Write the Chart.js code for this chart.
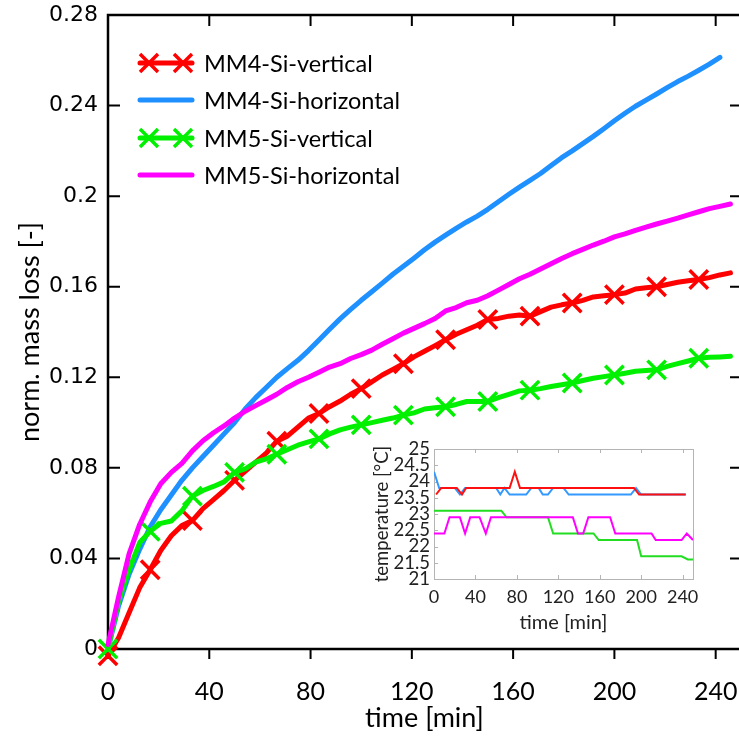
<!DOCTYPE html>
<html>
<head>
<meta charset="utf-8">
<script src="https://cdn.jsdelivr.net/npm/chart.js@4.4.1/dist/chart.umd.min.js"></script>
<style>
  html, body { margin: 0; padding: 0; background: #fff; }
  #wrap { position: relative; width: 739px; height: 740px; overflow: hidden; background: #fff; }
  #main { position: absolute; left: 0; top: 0; }
  #inset { position: absolute; left: 365px; top: 435px; }
</style>
</head>
<body>
<div id="wrap">
  <canvas id="main" width="745" height="740"></canvas>
  <canvas id="inset" width="340" height="215"></canvas>
</div>
<script>
// ---- mass loss data (time in minutes, normalised mass loss) ----
const timeMin = [0, 4.17, 8.33, 12.5, 16.67, 20.83, 25, 29.17, 33.33, 37.5,
  41.67, 45.83, 50, 54.17, 58.33, 62.5, 66.67, 70.83, 75, 79.17,
  83.33, 87.5, 91.67, 95.83, 100, 104.17, 108.33, 112.5, 116.67, 120.83,
  125, 129.17, 133.33, 137.5, 141.67, 145.83, 150, 154.17, 158.33, 162.5,
  166.67, 170.83, 175, 179.17, 183.33, 187.5, 191.67, 195.83, 200, 204.17,
  208.33, 212.5, 216.67, 220.83, 225, 229.17, 233.33, 237.5, 241.67, 245.83];

const mm4Vertical = [-0.003, 0.005, 0.016, 0.027, 0.035, 0.0435, 0.050, 0.0545, 0.0567, 0.062,
  0.066, 0.070, 0.0745, 0.0785, 0.0825, 0.0865, 0.0918, 0.094, 0.098, 0.102,
  0.104, 0.107, 0.1095, 0.1125, 0.115, 0.118, 0.121, 0.1235, 0.126, 0.129,
  0.1315, 0.134, 0.1366, 0.139, 0.141, 0.143, 0.1455, 0.146, 0.147, 0.1475,
  0.147, 0.149, 0.151, 0.152, 0.1528, 0.154, 0.1555, 0.156, 0.1565, 0.1572,
  0.159, 0.1595, 0.160, 0.161, 0.162, 0.1626, 0.1632, 0.164, 0.1652, 0.1661];

const mm4Horizontal = [0, 0.019, 0.033, 0.044, 0.054, 0.0615, 0.068, 0.0745, 0.080, 0.085,
  0.090, 0.095, 0.100, 0.106, 0.111, 0.1155, 0.120, 0.1238, 0.1275, 0.1318,
  0.1365, 0.1412, 0.1458, 0.1500, 0.1540, 0.1578, 0.1616, 0.1655, 0.1690, 0.1726,
  0.1763, 0.1797, 0.1828, 0.1858, 0.1886, 0.1912, 0.1942, 0.1975, 0.2008, 0.2040,
  0.2070, 0.2100, 0.2135, 0.2170, 0.2200, 0.2232, 0.2264, 0.2298, 0.2333, 0.2366,
  0.2397, 0.2424, 0.2451, 0.2479, 0.2506, 0.2530, 0.2556, 0.2583, 0.2613];

const mm5Vertical = [0.000, 0.021, 0.035, 0.047, 0.052, 0.0555, 0.0565, 0.061, 0.0675, 0.070,
  0.0718, 0.0738, 0.078, 0.0795, 0.0825, 0.084, 0.086, 0.088, 0.090, 0.0915,
  0.0928, 0.095, 0.0968, 0.098, 0.099, 0.100, 0.101, 0.102, 0.1033, 0.1043,
  0.106, 0.1065, 0.107, 0.108, 0.1093, 0.1093, 0.1093, 0.111, 0.1125, 0.114,
  0.1143, 0.115, 0.1159, 0.1167, 0.1175, 0.1186, 0.1196, 0.1203, 0.121, 0.1218,
  0.1227, 0.123, 0.1233, 0.1248, 0.126, 0.1272, 0.1284, 0.1288, 0.129, 0.1293];

const mm5Horizontal = [0.002, 0.023, 0.042, 0.055, 0.065, 0.073, 0.078, 0.082, 0.0875, 0.092,
  0.0955, 0.0985, 0.102, 0.105, 0.1075, 0.110, 0.1125, 0.1155, 0.118, 0.120,
  0.1222, 0.1245, 0.126, 0.1283, 0.130, 0.132, 0.1346, 0.137, 0.1395, 0.1416,
  0.1437, 0.146, 0.1493, 0.1508, 0.1529, 0.154, 0.156, 0.1585, 0.161, 0.1635,
  0.1655, 0.1678, 0.1701, 0.1725, 0.1746, 0.1765, 0.1784, 0.1801, 0.182, 0.1833,
  0.1849, 0.1863, 0.1877, 0.189, 0.1903, 0.1917, 0.1931, 0.1945, 0.1955, 0.1965];

const seriesNames = ['MM4-Si-vertical', 'MM4-Si-horizontal', 'MM5-Si-vertical', 'MM5-Si-horizontal'];

const xTickValues = [0, 40, 80, 120, 160, 200, 240];
const xTickLabels = ['0', '40', '80', '120', '160', '200', '240'];
const yTickValues = [0, 0.04, 0.08, 0.12, 0.16, 0.2, 0.24, 0.28];
const yTickLabels = ['0', '0.04', '0.08', '0.12', '0.16', '0.2', '0.24', '0.28'];

// ---- room temperature during the runs (breakpoints, minutes / °C) ----
const mm4VertTempTime = [2, 7, 22, 27, 31, 73, 78, 83, 193, 198, 243];
const mm4VertTemp     = [23.6, 23.8, 23.8, 23.6, 23.8, 23.8, 24.3, 23.8, 23.8, 23.6, 23.6];
const mm4HorTempTime  = [0, 5, 20, 25, 30, 60, 64, 68, 73, 89, 94, 101, 105, 110, 115, 125, 130, 190, 195, 200, 243];
const mm4HorTemp      = [24.3, 23.8, 23.8, 23.6, 23.8, 23.8, 23.6, 23.8, 23.6, 23.6, 23.8, 23.8, 23.6, 23.6, 23.8, 23.8, 23.6, 23.6, 23.8, 23.6, 23.6];
const mm5VertTempTime = [0, 65, 70, 110, 115, 154, 159, 196, 200, 239, 245, 250];
const mm5VertTemp     = [23.1, 23.1, 22.9, 22.9, 22.4, 22.4, 22.2, 22.2, 21.7, 21.7, 21.6, 21.6];
const mm5HorTempTime  = [0, 10, 15, 25, 30, 35, 44, 50, 55, 134, 139, 144, 149, 170, 175, 210, 214, 239, 244, 250];
const mm5HorTemp      = [22.4, 22.4, 22.9, 22.9, 22.4, 22.9, 22.9, 22.4, 22.9, 22.9, 22.4, 22.4, 22.9, 22.9, 22.4, 22.4, 22.2, 22.2, 22.4, 22.2];

const insetXTicks = [0, 40, 80, 120, 160, 200, 240];
const insetYTicks = [21, 21.5, 22, 22.5, 23, 23.5, 24, 24.5, 25];
const insetYLabels = ['21', '21.5', '22', '22.5', '23', '23.5', '24', '24.5', '25'];

// ---- helpers ----
const toPoints = (xs, ys) => ys.map((y, i) => ({ x: xs[i], y }));
const MARKER_EVERY = 4;   // a cross every 4th sample

const RED = '#ff0000', BLUE = '#1e90ff', GREEN = '#00f000', MAGENTA = '#ff00ff';

// keep the plot area exactly where the layout padding puts it
function fixedBox(size) {
  return s => {
    if (s.isHorizontal()) s.height = size; else s.width = size;
    s.paddingTop = 0; s.paddingBottom = 0; s.paddingLeft = 0; s.paddingRight = 0;
  };
}

function lineSet(label, values, color, withMarkers, order) {
  return {
    label,
    data: toPoints(timeMin, values),
    borderColor: color,
    backgroundColor: color,
    borderWidth: 5,
    borderCapStyle: 'round',
    borderJoinStyle: 'round',
    pointStyle: 'crossRot',
    pointRadius: withMarkers ? (c => c.dataIndex % MARKER_EVERY === 0 ? 13 : 0) : 0,
    pointHoverRadius: 0,
    pointBorderWidth: 3.5,
    pointBorderColor: color,
    clip: false,
    order,
    showMarker: withMarkers
  };
}

// box frame: ticks inside on left/top/right, outside at the bottom
const framePlugin = {
  id: 'frame',
  beforeDatasetsDraw(chart) {
    const { ctx, chartArea: a, scales: { x, y } } = chart;
    ctx.save();
    ctx.strokeStyle = '#000';
    ctx.lineWidth = 2.5;
    ctx.strokeRect(a.left, a.top, a.right - a.left, a.bottom - a.top);
    ctx.lineWidth = 2;
    ctx.beginPath();
    xTickValues.forEach(v => {
      const px = x.getPixelForValue(v);
      ctx.moveTo(px, a.bottom); ctx.lineTo(px, a.bottom + 10);
      ctx.moveTo(px, a.top); ctx.lineTo(px, a.top + 11);
    });
    yTickValues.forEach(v => {
      const py = y.getPixelForValue(v);
      ctx.moveTo(a.left, py); ctx.lineTo(a.left + 12, py);
      ctx.moveTo(a.right, py); ctx.lineTo(a.right - 11, py);
    });
    ctx.stroke();
    ctx.restore();
  }
};

// legend in the upper-left corner of the plot area
const legendPlugin = {
  id: 'innerLegend',
  afterDatasetsDraw(chart) {
    const { ctx, chartArea: a } = chart;
    const x0 = a.left + 32, x1 = a.left + 84, textX = a.left + 96;
    const rowY = [48, 85, 123, 160];
    ctx.save();
    chart.data.datasets.forEach((ds, i) => {
      const yy = a.top + rowY[i];
      ctx.strokeStyle = ds.borderColor;
      ctx.lineCap = 'round';
      ctx.lineWidth = 5;
      ctx.beginPath(); ctx.moveTo(x0, yy); ctx.lineTo(x1, yy); ctx.stroke();
      if (ds.showMarker) {
        ctx.lineWidth = 3.5;
        ctx.lineCap = 'butt';
        [x0 + 9, x1 - 9].forEach(cx => {
          const h = 9;
          ctx.beginPath();
          ctx.moveTo(cx - h, yy - h); ctx.lineTo(cx + h, yy + h);
          ctx.moveTo(cx - h, yy + h); ctx.lineTo(cx + h, yy - h);
          ctx.stroke();
        });
      }
      ctx.fillStyle = '#000';
      ctx.font = '23.5px Lato';
      ctx.textBaseline = 'middle';
      ctx.textAlign = 'left';
      ctx.fillText(ds.label, textX, yy + 1);
    });
    ctx.restore();
  }
};

new Chart(document.getElementById('main'), {
  type: 'line',
  data: {
    datasets: [
      lineSet(seriesNames[0], mm4Vertical, RED, true, 4),
      lineSet(seriesNames[1], mm4Horizontal, BLUE, false, 3),
      lineSet(seriesNames[2], mm5Vertical, GREEN, true, 2),
      lineSet(seriesNames[3], mm5Horizontal, MAGENTA, false, 1)
    ]
  },
  options: {
    responsive: false,
    animation: false,
    devicePixelRatio: 1,
    events: [],
    layout: { autoPadding: false, padding: { left: 0, top: 15, right: 4, bottom: 0 } },
    plugins: { legend: { display: false }, tooltip: { enabled: false } },
    scales: {
      x: {
        type: 'linear', min: 0, max: 250,
        afterFit: fixedBox(91),
        afterBuildTicks: s => { s.ticks = xTickValues.map(v => ({ value: v })); },
        grid: { display: false, drawTicks: false },
        border: { display: false },
        ticks: {
          padding: 28, color: '#000', maxRotation: 0, autoSkip: false,
          font: { family: 'Lato', size: 25 },
          callback: (v, i) => xTickLabels[i]
        },
        title: {
          display: true, text: 'time [min]', color: '#000',
          font: { family: 'Lato', size: 27, lineHeight: 1.2 },
          padding: { top: 0, bottom: 6 }
        }
      },
      y: {
        type: 'linear', min: 0, max: 0.28,
        afterFit: fixedBox(108),
        afterBuildTicks: s => { s.ticks = yTickValues.map(v => ({ value: v })); },
        grid: { display: false, drawTicks: false },
        border: { display: false },
        ticks: {
          padding: 10, color: '#000', autoSkip: false,
          font: { family: 'DejaVu Sans', size: 22 },
          callback: (v, i) => yTickLabels[i]
        },
        title: {
          display: true, text: 'norm. mass loss [-]', color: '#000',
          font: { family: 'Lato', size: 27, lineHeight: 1.2 },
          padding: { top: 14, bottom: 0 }
        }
      }
    }
  },
  plugins: [framePlugin, legendPlugin]
});

// ---- inset: temperature ----
const insetFrame = {
  id: 'insetFrame',
  beforeDatasetsDraw(chart) {
    const { ctx, chartArea: a, scales: { x, y } } = chart;
    ctx.save();
    ctx.strokeStyle = '#b4b4b4';
    ctx.lineWidth = 1;
    ctx.strokeRect(a.left + 0.5, a.top + 0.5, a.right - a.left, a.bottom - a.top);
    ctx.beginPath();
    insetXTicks.forEach(v => {
      const px = Math.round(x.getPixelForValue(v)) + 0.5;
      ctx.moveTo(px, a.bottom); ctx.lineTo(px, a.bottom - 4);
      ctx.moveTo(px, a.top); ctx.lineTo(px, a.top + 4);
    });
    insetYTicks.forEach(v => {
      const py = Math.round(y.getPixelForValue(v)) + 0.5;
      ctx.moveTo(a.left, py); ctx.lineTo(a.left + 4, py);
    });
    ctx.stroke();
    ctx.restore();
  }
};

function tempSet(times, temps, color, order) {
  return {
    data: toPoints(times, temps),
    borderColor: color,
    borderWidth: 2,
    pointRadius: 0,
    pointHoverRadius: 0,
    order
  };
}

new Chart(document.getElementById('inset'), {
  type: 'line',
  data: {
    datasets: [
      tempSet(mm4VertTempTime, mm4VertTemp, '#ff1010', 1),
      tempSet(mm4HorTempTime, mm4HorTemp, '#3399ff', 3),
      tempSet(mm5VertTempTime, mm5VertTemp, '#22dd22', 4),
      tempSet(mm5HorTempTime, mm5HorTemp, '#ff00ff', 2)
    ]
  },
  options: {
    responsive: false,
    animation: false,
    devicePixelRatio: 1,
    events: [],
    layout: { autoPadding: false, padding: { left: 0, top: 14, right: 12, bottom: 0 } },
    plugins: { legend: { display: false }, tooltip: { enabled: false } },
    scales: {
      x: {
        type: 'linear', min: 0, max: 250,
        afterFit: fixedBox(71),
        afterBuildTicks: s => { s.ticks = insetXTicks.map(v => ({ value: v })); },
        grid: { display: false, drawTicks: false },
        border: { display: false },
        ticks: {
          padding: 7, color: '#222', maxRotation: 0, autoSkip: false,
          font: { family: 'Lato', size: 18 },
          callback: (v, i) => String(insetXTicks[i])
        },
        title: {
          display: true, text: 'time [min]', color: '#222',
          font: { family: 'Lato', size: 20, lineHeight: 1.2 },
          padding: { top: 0, bottom: 15 }
        }
      },
      y: {
        type: 'linear', min: 21, max: 25,
        afterFit: fixedBox(69),
        afterBuildTicks: s => { s.ticks = insetYTicks.map(v => ({ value: v })); },
        grid: { display: false, drawTicks: false },
        border: { display: false },
        ticks: {
          padding: 4, color: '#222', autoSkip: false,
          font: { family: 'Lato', size: 18.5 },
          callback: (v, i) => insetYLabels[i]
        },
        title: {
          display: true, text: 'temperature [°C]', color: '#222',
          font: { family: 'Lato', size: 18.5, lineHeight: 1.2 },
          padding: { top: 6, bottom: 0 }
        }
      }
    }
  },
  plugins: [insetFrame]
});
</script>
</body>
</html>
